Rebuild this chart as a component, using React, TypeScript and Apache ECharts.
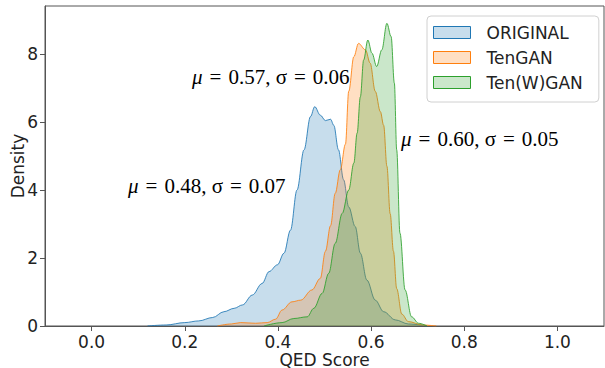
import React, { useEffect, useRef } from "react";
import * as echarts from "echarts";

const SERIES_NAMES = ["ORIGINAL", "TenGAN", "Ten(W)GAN"];
const SERIES_COLORS = ["#1f77b4", "#ff7f0e", "#2ca02c"];
const FILL_COLORS = ["rgba(31,119,180,0.25)", "rgba(255,127,14,0.25)", "rgba(44,160,44,0.25)"];

const X_TICKS = [0, 0.2, 0.4, 0.6, 0.8, 1.0];
const Y_TICKS = [0, 2, 4, 6, 8];

const originalKde: [number, number][] = [
  [0.12, 0], [0.16, 0.03], [0.2, 0.1], [0.23, 0.15], [0.26, 0.25], [0.284, 0.42], [0.306, 0.52],
  [0.324, 0.62], [0.345, 0.91], [0.366, 1.25], [0.381, 1.6], [0.399, 1.8], [0.413, 2.14],
  [0.427, 2.82], [0.441, 4.0], [0.456, 5.18], [0.47, 6.16], [0.479, 6.45], [0.491, 6.2],
  [0.502, 6.04], [0.513, 6.08], [0.52, 5.9], [0.53, 5.18], [0.541, 4.3], [0.552, 3.5],
  [0.566, 2.92], [0.577, 2.14], [0.591, 1.35], [0.609, 0.76], [0.627, 0.42], [0.652, 0.18],
  [0.68, 0.06], [0.72, 0],
];

const tenganKde: [number, number][] = [
  [0.27, 0], [0.3, 0.06], [0.32, 0.1], [0.352, 0.08], [0.377, 0.1], [0.395, 0.2], [0.409, 0.47],
  [0.43, 0.71], [0.449, 0.76], [0.473, 1.06], [0.491, 1.4], [0.502, 2.2], [0.513, 2.95],
  [0.523, 3.9], [0.534, 4.6], [0.545, 5.35], [0.552, 6.9], [0.563, 7.92], [0.573, 8.31],
  [0.588, 8.12], [0.598, 7.73], [0.609, 6.9], [0.62, 6.3], [0.627, 5.9], [0.634, 4.7],
  [0.641, 3.3], [0.648, 2.2], [0.655, 1.1], [0.666, 0.35], [0.68, 0.13], [0.71, 0.03], [0.74, 0],
];

const tenwganKde: [number, number][] = [
  [0.37, 0], [0.409, 0.1], [0.434, 0.22], [0.463, 0.27], [0.477, 0.52], [0.495, 0.96],
  [0.509, 1.55], [0.523, 2.43], [0.538, 3.31], [0.552, 4.0], [0.563, 4.79], [0.57, 5.67],
  [0.577, 6.74], [0.584, 7.82], [0.593, 8.41], [0.602, 8.02], [0.612, 7.63], [0.623, 8.12],
  [0.634, 8.9], [0.643, 8.51], [0.65, 7.14], [0.655, 5.18], [0.662, 2.73], [0.673, 1.06],
  [0.687, 0.27], [0.702, 0.08], [0.72, 0],
];

const SERIES_DATA = [originalKde, tenganKde, tenwganKde];

const ANNOTATIONS = [
  { mu: "0.48", sigma: "0.07", left: 128, top: 175 },
  { mu: "0.57", sigma: "0.06", left: 192, top: 66 },
  { mu: "0.60", sigma: "0.05", left: 401, top: 128 },
];

export default function App() {
  const ref = useRef<HTMLDivElement>(null);
  useEffect(() => {
    if (!ref.current) return;
    const chart = echarts.init(ref.current, undefined, { renderer: "svg" });
    const tickFont = { fontFamily: "DejaVu Sans", fontSize: 17, color: "#222" };
    const serif = { fontFamily: "Liberation Serif", fontSize: 21, fill: "#000" };
    chart.setOption({
      animation: false,
      grid: {
        left: 45, right: 1, top: 6, bottom: 42,
        outerBoundsMode: "none", containLabel: false,
        show: true, borderColor: "#555", borderWidth: 1, backgroundColor: "transparent",
      },
      xAxis: {
        type: "value", min: -0.1, max: 1.1,
        name: "QED Score", nameLocation: "middle", nameGap: 25, nameMoveOverlap: false,
        nameTextStyle: { ...tickFont },
        axisLine: { show: true, onZero: false, lineStyle: { color: "#555", width: 1 } },
        axisTick: { show: true, customValues: X_TICKS, length: 5, lineStyle: { color: "#555" } },
        axisLabel: { customValues: X_TICKS, margin: 7, ...tickFont, formatter: (v: number) => v.toFixed(1) },
        splitLine: { show: false },
      },
      yAxis: {
        type: "value", min: 0, max: 9.41,
        name: "Density", nameLocation: "middle", nameGap: 19, nameMoveOverlap: false,
        nameTextStyle: { ...tickFont },
        axisLine: { show: true, onZero: false, lineStyle: { color: "#555", width: 1 } },
        axisTick: { show: true, customValues: Y_TICKS, length: 5, lineStyle: { color: "#555" } },
        axisLabel: { customValues: Y_TICKS, margin: 7, ...tickFont, formatter: (v: number) => String(v) },
        splitLine: { show: false },
      },
      legend: {
        orient: "vertical", left: 427, top: 16,
        padding: [8, 16, 11, 6], itemWidth: 37, itemHeight: 12, itemGap: 8,
        icon: "rect",
        backgroundColor: "rgba(255,255,255,0.85)", borderColor: "#d0d0d0", borderWidth: 1, borderRadius: 4,
        textStyle: { ...tickFont, padding: [0, 0, 0, 11] },
        data: SERIES_NAMES.map((n, i) => ({
          name: n,
          itemStyle: { color: FILL_COLORS[i], borderColor: SERIES_COLORS[i], borderWidth: 1 },
        })),
      },
      series: SERIES_NAMES.map((n, i) => ({
        name: n, type: "line", data: SERIES_DATA[i], symbol: "none",
        smooth: 0.35, smoothMonotone: "x",
        color: SERIES_COLORS[i],
        lineStyle: { color: SERIES_COLORS[i], width: 1, opacity: 0.85 },
        areaStyle: { color: FILL_COLORS[i], opacity: 1 },
        z: 2 + i,
      })),
      graphic: ANNOTATIONS.map((a) => ({
        type: "text", left: a.left, top: a.top, z: 10,
        style: {
          text: "{i|μ}{e|=}" + a.mu + ", σ{e|=}" + a.sigma,
          ...serif,
          rich: {
            i: { fontStyle: "italic", fontFamily: "Liberation Serif", fontSize: 21 },
            e: { fontFamily: "Liberation Serif", fontSize: 21, padding: [0, 7, 0, 7] },
          },
        },
      })),
    });
    return () => chart.dispose();
  }, []);
  return <div ref={ref} style={{ width: 605, height: 368, position: "absolute", left: 0, top: 0 }} />;
}
